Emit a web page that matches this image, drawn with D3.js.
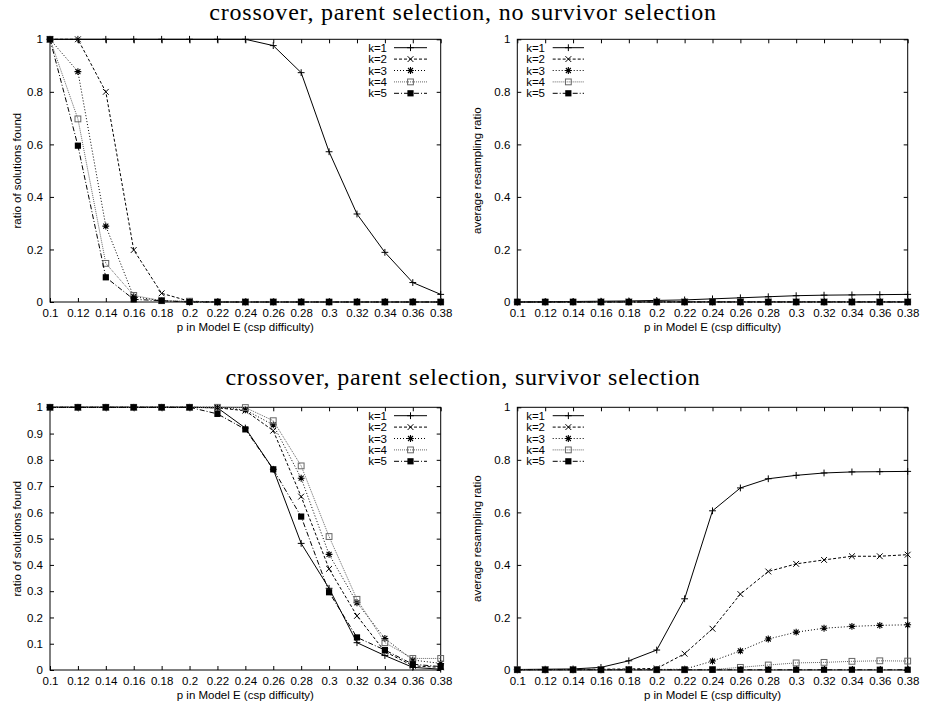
<!DOCTYPE html>
<html>
<head>
<meta charset="utf-8">
<script src="https://cdn.jsdelivr.net/npm/d3@7"></script>
<style>
  html, body { margin: 0; padding: 0; background: #fff; }
  svg { display: block; }
</style>
</head>
<body>
<svg id="chart" width="927" height="708"></svg>
<script>
// ---------- data ----------
const pValues = [0.1, 0.12, 0.14, 0.16, 0.18, 0.2, 0.22, 0.24, 0.26, 0.28, 0.3, 0.32, 0.34, 0.36, 0.38];
const pTickLabels = ["0.1","0.12","0.14","0.16","0.18","0.2","0.22","0.24","0.26","0.28","0.3","0.32","0.34","0.36","0.38"];
const seriesNames = ["k=1", "k=2", "k=3", "k=4", "k=5"];

const yTicksFifth = [0, 0.2, 0.4, 0.6, 0.8, 1];
const yTickLabelsFifth = ["0", "0.2", "0.4", "0.6", "0.8", "1"];
const yTicksTenth = [0, 0.1, 0.2, 0.3, 0.4, 0.5, 0.6, 0.7, 0.8, 0.9, 1];
const yTickLabelsTenth = ["0", "0.1", "0.2", "0.3", "0.4", "0.5", "0.6", "0.7", "0.8", "0.9", "1"];

const titleTop = "crossover, parent selection, no survivor selection";
const titleBottom = "crossover, parent selection, survivor selection";
const xAxisTitle = "p in Model E (csp difficulty)";
const yTitleSolved = "ratio of solutions found";
const yTitleResample = "average resampling ratio";

// no survivor selection: ratio of solutions found
const solvedNoSurvK1 = [1, 1, 1, 1, 1, 1, 1, 1, 0.976, 0.873, 0.572, 0.335, 0.189, 0.074, 0.029];
const solvedNoSurvK2 = [1, 1, 0.80, 0.198, 0.033, 0.003, 0, 0, 0, 0, 0, 0, 0, 0, 0];
const solvedNoSurvK3 = [1, 0.877, 0.289, 0.02, 0.005, 0, 0, 0, 0, 0, 0, 0, 0, 0, 0];
const solvedNoSurvK4 = [1, 0.697, 0.147, 0.025, 0.005, 0.003, 0, 0, 0, 0, 0, 0, 0, 0, 0];
const solvedNoSurvK5 = [1, 0.595, 0.094, 0.01, 0.005, 0, 0, 0, 0, 0, 0, 0, 0, 0, 0];

// no survivor selection: average resampling ratio
const resampleNoSurvK1 = [0, 0.001, 0.002, 0.003, 0.004, 0.006, 0.008, 0.012, 0.016, 0.02, 0.024, 0.026, 0.027, 0.028, 0.029];
const resampleNoSurvK2 = [0, 0, 0, 0.001, 0.001, 0.001, 0.001, 0.001, 0.001, 0.001, 0.001, 0.001, 0.001, 0.001, 0.001];
const resampleNoSurvK3 = [0, 0, 0, 0, 0, 0, 0, 0, 0, 0, 0, 0, 0, 0, 0];
const resampleNoSurvK4 = [0, 0, 0, 0, 0, 0, 0, 0, 0, 0, 0, 0, 0, 0, 0];
const resampleNoSurvK5 = [0, 0, 0, 0, 0, 0, 0, 0, 0, 0, 0, 0, 0, 0, 0];

// survivor selection: ratio of solutions found
const solvedSurvK1 = [1, 1, 1, 1, 1, 1, 0.998, 0.921, 0.764, 0.482, 0.311, 0.104, 0.055, 0.01, 0.003];
const solvedSurvK2 = [1, 1, 1, 1, 1, 1, 0.998, 0.987, 0.911, 0.66, 0.385, 0.206, 0.07, 0.016, 0.01];
const solvedSurvK3 = [1, 1, 1, 1, 1, 1, 1, 0.99, 0.933, 0.73, 0.44, 0.256, 0.12, 0.038, 0.025];
const solvedSurvK4 = [1, 1, 1, 1, 1, 1, 1, 0.999, 0.949, 0.777, 0.508, 0.269, 0.104, 0.044, 0.044];
const solvedSurvK5 = [1, 1, 1, 1, 1, 1, 0.975, 0.916, 0.764, 0.584, 0.296, 0.124, 0.076, 0.022, 0.013];

// survivor selection: average resampling ratio
const resampleSurvK1 = [0.002, 0.003, 0.004, 0.01, 0.035, 0.076, 0.271, 0.606, 0.693, 0.728, 0.741, 0.75, 0.754, 0.755, 0.756];
const resampleSurvK2 = [0.001, 0.002, 0.002, 0.003, 0.004, 0.006, 0.062, 0.157, 0.289, 0.375, 0.404, 0.419, 0.433, 0.433, 0.439];
const resampleSurvK3 = [0.001, 0.001, 0.001, 0.001, 0.002, 0.002, 0.003, 0.034, 0.073, 0.118, 0.144, 0.159, 0.166, 0.17, 0.172];
const resampleSurvK4 = [0.001, 0.001, 0.001, 0.001, 0.001, 0.001, 0.001, 0.002, 0.01, 0.019, 0.027, 0.029, 0.033, 0.035, 0.034];
const resampleSurvK5 = [0.001, 0.001, 0.001, 0.001, 0.001, 0.001, 0.001, 0.001, 0.001, 0.001, 0.001, 0.001, 0.001, 0.001, 0.001];

// ---------- styles ----------
const seriesStyles = [
  { stroke: "#000", dash: null,      marker: "plus" },
  { stroke: "#000", dash: "3,2",     marker: "cross" },
  { stroke: "#000", dash: "1,2",     marker: "star" },
  { stroke: "#666", dash: "1,1",     marker: "openSquare" },
  { stroke: "#000", dash: "5,2,1,2", marker: "filledSquare" }
];

const panels = [
  { left: 50,    right: 440.7, top: 39.3,  bottom: 302, yTicks: yTicksFifth, yLabels: yTickLabelsFifth,
    yTitle: yTitleSolved, yTitleX: 21, legend: "right",
    series: [solvedNoSurvK1, solvedNoSurvK2, solvedNoSurvK3, solvedNoSurvK4, solvedNoSurvK5] },
  { left: 517.3, right: 907.7, top: 39.3,  bottom: 302, yTicks: yTicksFifth, yLabels: yTickLabelsFifth,
    yTitle: yTitleResample, yTitleX: 481, legend: "left",
    series: [resampleNoSurvK1, resampleNoSurvK2, resampleNoSurvK3, resampleNoSurvK4, resampleNoSurvK5] },
  { left: 50,    right: 440.7, top: 407.3, bottom: 670, yTicks: yTicksTenth, yLabels: yTickLabelsTenth,
    yTitle: yTitleSolved, yTitleX: 21, legend: "right",
    series: [solvedSurvK1, solvedSurvK2, solvedSurvK3, solvedSurvK4, solvedSurvK5] },
  { left: 517.3, right: 907.7, top: 407.3, bottom: 670, yTicks: yTicksFifth, yLabels: yTickLabelsFifth,
    yTitle: yTitleResample, yTitleX: 481, legend: "left",
    series: [resampleSurvK1, resampleSurvK2, resampleSurvK3, resampleSurvK4, resampleSurvK5] }
];

const svg = d3.select("#chart");
const sansFont = "'Liberation Sans', Arial, sans-serif";
const serifFont = "'Liberation Serif', 'Times New Roman', serif";

// titles
svg.append("text").attr("x", 463).attr("y", 20).attr("text-anchor", "middle")
  .attr("font-family", serifFont).attr("font-size", 24).attr("letter-spacing", 0.8)
  .attr("fill", "#000").text(titleTop);
svg.append("text").attr("x", 463).attr("y", 385).attr("text-anchor", "middle")
  .attr("font-family", serifFont).attr("font-size", 24).attr("letter-spacing", 0.8)
  .attr("fill", "#000").text(titleBottom);

function drawMarker(g, type, x, y, color) {
  const s = 3.4;
  if (type === "plus") {
    g.append("path").attr("d", `M${x - s},${y}H${x + s}M${x},${y - s}V${y + s}`)
      .attr("stroke", color).attr("stroke-width", 1).attr("fill", "none");
  } else if (type === "cross") {
    const c = 2.9;
    g.append("path").attr("d", `M${x - c},${y - c}L${x + c},${y + c}M${x - c},${y + c}L${x + c},${y - c}`)
      .attr("stroke", color).attr("stroke-width", 1).attr("fill", "none");
  } else if (type === "star") {
    const c = 2.5;
    g.append("path").attr("d",
      `M${x - s},${y}H${x + s}M${x},${y - s}V${y + s}M${x - c},${y - c}L${x + c},${y + c}M${x - c},${y + c}L${x + c},${y - c}`)
      .attr("stroke", color).attr("stroke-width", 1.1).attr("fill", "none");
  } else if (type === "openSquare") {
    const h = 2.9;
    g.append("rect").attr("x", x - h).attr("y", y - h).attr("width", 2 * h).attr("height", 2 * h)
      .attr("stroke", color).attr("stroke-width", 1).attr("fill", "none");
  } else if (type === "filledSquare") {
    const h = 3.1;
    g.append("rect").attr("x", x - h).attr("y", y - h).attr("width", 2 * h).attr("height", 2 * h)
      .attr("fill", color).attr("stroke", "none");
  }
}

panels.forEach(P => {
  const x = d3.scaleLinear().domain([pValues[0], pValues[pValues.length - 1]]).range([P.left, P.right]);
  const y = d3.scaleLinear().domain([0, 1]).range([P.bottom, P.top]);
  const g = svg.append("g");

  // frame
  g.append("rect").attr("x", P.left).attr("y", P.top)
    .attr("width", P.right - P.left).attr("height", P.bottom - P.top)
    .attr("fill", "none").attr("stroke", "#000").attr("stroke-width", 1);

  const tickLen = 4;
  const xAxisB = d3.axisBottom(x).tickValues(pValues).tickSizeInner(-tickLen).tickSizeOuter(0)
    .tickPadding(8).tickFormat((d, i) => pTickLabels[i]);
  const gxb = g.append("g").attr("transform", `translate(0,${P.bottom})`).call(xAxisB);
  const xAxisT = d3.axisTop(x).tickValues(pValues).tickSizeInner(-tickLen).tickSizeOuter(0).tickFormat("");
  const gxt = g.append("g").attr("transform", `translate(0,${P.top})`).call(xAxisT);
  const yAxisL = d3.axisLeft(y).tickValues(P.yTicks).tickSizeInner(-tickLen).tickSizeOuter(0)
    .tickPadding(7).tickFormat((d, i) => P.yLabels[i]);
  const gyl = g.append("g").attr("transform", `translate(${P.left},0)`).call(yAxisL);
  const yAxisR = d3.axisRight(y).tickValues(P.yTicks).tickSizeInner(-tickLen).tickSizeOuter(0).tickFormat("");
  const gyr = g.append("g").attr("transform", `translate(${P.right},0)`).call(yAxisR);
  [gxb, gxt, gyl, gyr].forEach(a => {
    a.select(".domain").remove();
    a.selectAll("line").attr("stroke", "#000").attr("stroke-width", 1);
    a.selectAll("text").attr("font-family", sansFont).attr("font-size", 11.5).attr("fill", "#000");
  });
  gxb.selectAll("text").attr("dy", "0.71em").attr("y", 7.3);

  // axis titles
  g.append("text").attr("x", (P.left + P.right) / 2).attr("y", P.bottom + 29)
    .attr("text-anchor", "middle").attr("font-family", sansFont).attr("font-size", 11.5)
    .attr("fill", "#000").text(xAxisTitle);
  g.append("text").attr("transform", `translate(${P.yTitleX},${(P.top + P.bottom) / 2}) rotate(-90)`)
    .attr("text-anchor", "middle").attr("font-family", sansFont).attr("font-size", 11.5)
    .attr("fill", "#000").text(P.yTitle);

  // series
  P.series.forEach((vals, si) => {
    const st = seriesStyles[si];
    const pts = vals.map((v, i) => [pValues[i], v]);
    const line = d3.line().x(d => x(d[0])).y(d => y(d[1]));
    g.append("path").attr("d", line(pts)).attr("fill", "none")
      .attr("stroke", st.stroke).attr("stroke-width", 1)
      .attr("stroke-dasharray", st.dash);
    pts.forEach(d => drawMarker(g, st.marker, x(d[0]), y(d[1]), st.stroke));
  });

  // legend
  const rowStart = P.top + 8.4, rowStep = 11.4;
  seriesNames.forEach((name, si) => {
    const st = seriesStyles[si];
    const ry = rowStart + si * rowStep;
    let textX, lx1, lx2;
    if (P.legend === "right") { textX = P.right - 53.7; lx1 = P.right - 46.7; lx2 = P.right - 13.7; }
    else { textX = P.left + 27.7; lx1 = P.left + 35.4; lx2 = P.left + 66.7; }
    g.append("text").attr("x", textX).attr("y", ry).attr("dy", "0.35em")
      .attr("text-anchor", "end").attr("font-family", sansFont).attr("font-size", 11.5)
      .attr("fill", "#000").text(name);
    g.append("line").attr("x1", lx1).attr("x2", lx2).attr("y1", ry).attr("y2", ry)
      .attr("stroke", st.stroke).attr("stroke-width", 1).attr("stroke-dasharray", st.dash);
    drawMarker(g, st.marker, (lx1 + lx2) / 2, ry, st.stroke);
  });
});
</script>
</body>
</html>
